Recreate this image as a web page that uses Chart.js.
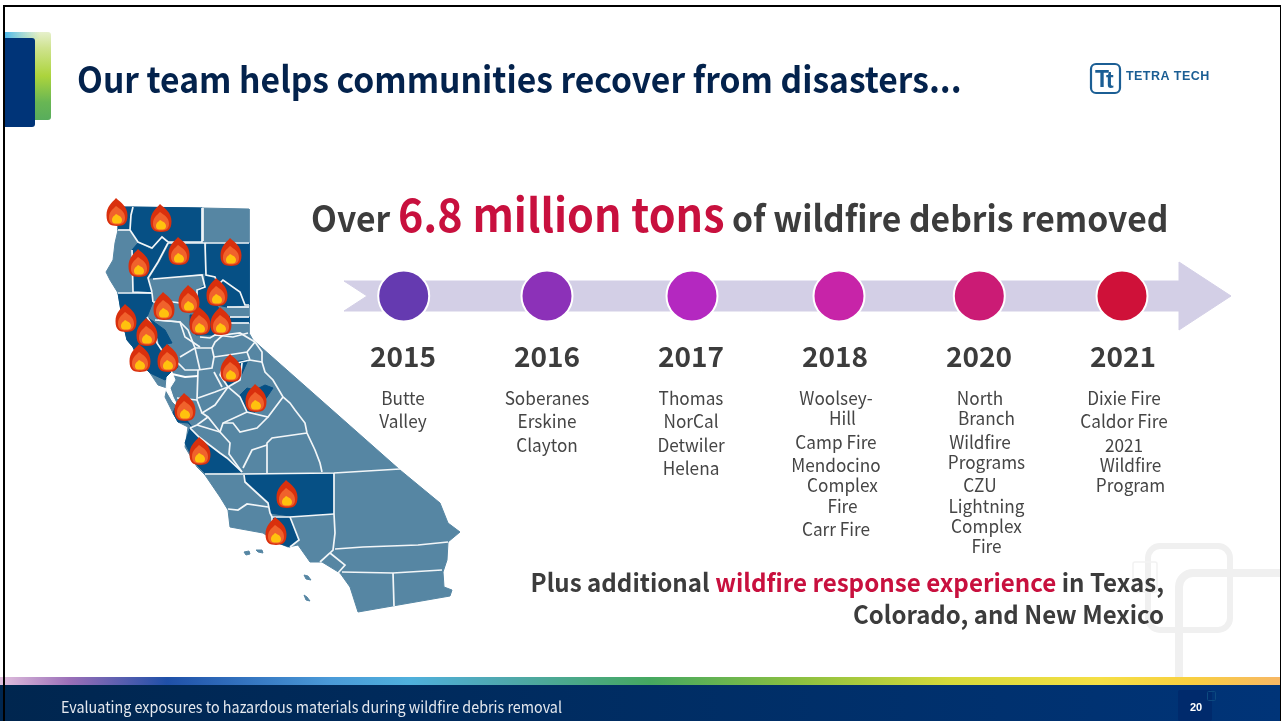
<!DOCTYPE html>
<html>
<head>
<meta charset="utf-8">
<title>Wildfire debris removal</title>
<script src="https://cdn.jsdelivr.net/npm/chart.js@4"></script>
<style>
  html, body { margin: 0; padding: 0; background: #fff; overflow: hidden; }
  canvas { display: block; }
</style>
</head>
<body>
<canvas id="slide" width="1281" height="721"></canvas>
<script>
// timeline
var years = ["2015", "2016", "2017", "2018", "2020", "2021"];
var milestoneX = [403.7, 547, 692, 839, 979.3, 1122];
var milestoneY = [296, 296, 296, 296, 296, 296];
var yearLabelX = [403, 547, 691, 835, 979, 1123];
var milestoneColors = ["#653ab0", "#8c31b8", "#b428c0", "#c724a8", "#cb1b75", "#cf1139"];
var bandShape = [[344,281],[1179,281],[1179,262],[1231,296],[1179,330],[1179,311],[344,311],[367,296],[344,281]];

// projects per year, each inner list is one item broken over lines
var projects2015 = [["Butte"], ["Valley"]];
var projects2016 = [["Soberanes"], ["Erskine"], ["Clayton"]];
var projects2017 = [["Thomas"], ["NorCal"], ["Detwiler"], ["Helena"]];
var projects2018 = [["Woolsey-", "Hill"], ["Camp Fire"], ["Mendocino", "Complex", "Fire"], ["Carr Fire"]];
var projects2020 = [["North", "Branch"], ["Wildfire", "Programs"], ["CZU", "Lightning", "Complex", "Fire"]];
var projects2021 = [["Dixie Fire"], ["Caldor Fire"], ["2021", "Wildfire", "Program"]];
var projectLists = [projects2015, projects2016, projects2017, projects2018, projects2020, projects2021];

// map of California
var stateOutline = [[118,207],[202,208],[249,209],[249,333],[253,340],[400,470],[440,503],[448,523],[460,532],[448,542],[447,560],[443,572],[444,587],[452,590],[450,596],[358,612],[350,587],[340,573],[322,562],[310,562],[298,545],[288,547],[278,543],[263,533],[230,527],[228,510],[220,497],[205,475],[197,467],[185,447],[188,427],[178,422],[173,413],[165,397],[167,388],[158,385],[150,373],[140,363],[133,347],[127,340],[123,323],[118,293],[110,280],[106,272],[113,260],[115,243],[118,230],[118,207]];
var islands = [
  [[244,552],[249,551],[250,554],[246,555],[244,552]],
  [[256,550],[262,550],[263,553],[258,552],[256,550]],
  [[304,575],[308,576],[311,580],[306,579],[304,575]],
  [[304,595],[307,597],[310,601],[306,600],[304,595]]
];
var burnedCounties = [
  [[118,207],[133,207],[131,215],[130,230],[118,230],[118,207]],
  [[133,207],[202,208],[202,242],[168,242],[162,237],[152,248],[138,242],[130,230],[131,215],[133,207]],
  [[170,243],[205,243],[206,273],[170,277],[150,278],[160,262],[170,243]],
  [[207,243],[249,243],[249,305],[245,305],[240,292],[223,280],[215,287],[205,275],[207,243]],
  [[132,250],[138,243],[152,250],[162,237],[168,243],[158,262],[148,278],[152,292],[133,292],[132,250]],
  [[205,275],[215,277],[218,285],[223,280],[240,292],[245,305],[227,307],[217,305],[207,300],[197,290],[205,285],[205,275]],
  [[118,293],[152,293],[153,302],[147,317],[155,330],[157,343],[133,347],[127,340],[123,323],[118,293]],
  [[147,317],[165,330],[172,343],[160,345],[155,330],[147,317]],
  [[133,347],[157,343],[163,352],[172,372],[165,380],[150,373],[140,363],[133,347]],
  [[157,343],[168,345],[178,367],[172,372],[163,352],[157,343]],
  [[197,290],[207,300],[217,305],[222,315],[205,318],[190,310],[197,290]],
  [[190,315],[222,315],[230,317],[249,317],[249,323],[230,323],[218,335],[196,335],[190,325],[190,315]],
  [[222,370],[232,362],[248,360],[240,378],[228,385],[222,370]],
  [[240,395],[247,388],[255,390],[265,385],[273,388],[267,397],[255,412],[247,412],[240,395]],
  [[173,413],[178,422],[188,423],[192,427],[183,415],[175,408],[173,413]],
  [[190,428],[199,437],[220,453],[227,458],[242,472],[205,473],[195,463],[185,443],[190,428]],
  [[245,475],[333,474],[334,514],[290,516],[270,513],[268,503],[257,493],[245,480],[245,475]],
  [[272,517],[290,517],[299,540],[290,547],[278,543],[267,533],[272,523],[272,517]]
];
var countyLines = [
  [[133,207],[131,215],[130,230],[138,242],[152,248],[162,237],[168,242],[202,242],[202,208]],
  [[118,230],[130,230]],
  [[203,208],[203,241]],
  [[132,250],[133,292],[152,293],[153,302]],
  [[168,243],[158,262],[148,278],[152,292]],
  [[205,243],[206,275],[215,277],[218,285],[223,280],[240,292],[245,305],[249,305]],
  [[168,243],[249,243]],
  [[153,279],[202,275],[205,287],[197,290],[197,300]],
  [[153,302],[173,302],[180,303],[188,310]],
  [[118,293],[152,293]],
  [[147,317],[155,330],[157,343],[163,352],[172,372]],
  [[155,320],[180,322],[185,337],[200,347]],
  [[200,337],[210,338],[215,335],[233,337],[248,333]],
  [[227,307],[249,307]],
  [[230,317],[249,317]],
  [[230,323],[249,323]],
  [[158,320],[180,322],[188,330],[195,348],[212,348]],
  [[180,357],[195,348],[200,370]],
  [[178,363],[185,370],[198,370],[212,368],[214,357],[212,348],[215,342],[223,335],[240,333],[255,342]],
  [[214,357],[228,355],[247,352],[255,342]],
  [[247,352],[250,360],[262,362],[262,352],[255,342]],
  [[262,362],[265,372],[273,380],[283,397],[290,403],[295,410],[305,423],[307,433],[315,450],[320,463],[322,472]],
  [[250,360],[237,363],[222,370],[220,375],[228,387],[240,397],[247,412],[268,417],[283,397]],
  [[242,363],[240,380],[228,387]],
  [[214,372],[222,387]],
  [[228,387],[215,405],[202,413],[208,417],[220,432],[230,443],[229,454],[242,472]],
  [[198,398],[215,392],[228,387]],
  [[198,370],[197,400],[202,413]],
  [[197,400],[177,398]],
  [[208,417],[197,425],[190,428]],
  [[197,425],[220,432]],
  [[247,412],[223,423],[220,432]],
  [[268,417],[257,428],[240,432],[233,423],[223,423]],
  [[307,433],[272,438],[267,443],[267,473]],
  [[267,445],[252,450],[243,468]],
  [[190,428],[199,437],[220,453],[227,458],[242,472]],
  [[205,474],[242,474],[334,473],[400,469]],
  [[244,475],[245,482],[257,493],[268,503],[270,513],[272,517],[290,517],[334,514]],
  [[334,473],[334,514],[335,533],[333,550],[330,553],[320,562]],
  [[228,509],[238,510],[247,504],[268,507]],
  [[272,517],[272,523],[267,533]],
  [[290,517],[299,540],[290,547]],
  [[335,549],[363,547],[418,545],[448,542]],
  [[330,553],[345,565],[338,573]],
  [[342,572],[393,573],[442,570]],
  [[393,573],[394,606]]
];
var bayWater = [[167,377],[172,372],[175,380],[170,388],[173,397],[178,407],[173,402],[166,390],[167,377]];
var deltaChannel = [[172,374],[185,377],[198,376]];
var fireSites = [[117,212],[161,218],[179,251],[231,252],[139,263],[217,292],[189,299],[164,306],[200,321],[221,321],[126,318],[147,332],[140,358],[168,358],[231,368],[256,398],[185,407],[200,451],[287,494],[276,531]];

// slide wording
var titleText = "Our team helps communities recover from disasters...";
var headlineParts = [["Over ", 36, false], ["6.8 million tons", 46, true], [" of wildfire debris removed", 36, false]];
var footerText = "Evaluating exposures to hazardous materials during wildfire debris removal";
var pageNumber = "20";
var logoText = "TETRA TECH";
var plusLine1 = [["Plus additional ", false], ["wildfire response experience", true], [" in Texas,", false]];
var plusLine2 = "Colorado, and New Mexico";

var SANS = '"Noto Sans CJK SC", "Noto Sans", sans-serif';
var GREY = "#3c3c3c";
var CRIMSON = "#c8103e";

function toPoints(list) {
  return list.map(function (p) { return { x: p[0], y: p[1] }; });
}

function roundBox(ctx, x, y, w, h, r) {
  ctx.beginPath();
  ctx.roundRect(x, y, w, h, r);
}

// the CJK face runs wide for Latin text, so narrow it to the slide's setting
function squeezed(ctx, text, x, y, factor) {
  ctx.fillText(text, x, y, ctx.measureText(text).width * factor);
}

// flame icon used as the point style of the fire sites
function makeFlame() {
  var c = document.createElement("canvas");
  c.width = 24;
  c.height = 30;
  var g = c.getContext("2d");
  function drop(cx, top, bottom, halfW, color) {
    var h = bottom - top;
    g.beginPath();
    g.moveTo(cx - 1, top);
    g.bezierCurveTo(cx + halfW * 0.35, top + h * 0.16, cx + halfW, top + h * 0.3, cx + halfW, top + h * 0.62);
    g.bezierCurveTo(cx + halfW, bottom - h * 0.06, cx + halfW * 0.6, bottom, cx, bottom);
    g.bezierCurveTo(cx - halfW * 0.6, bottom, cx - halfW, bottom - h * 0.06, cx - halfW, top + h * 0.62);
    g.bezierCurveTo(cx - halfW, top + h * 0.3, cx - halfW * 0.45, top + h * 0.16, cx - 1, top);
    g.closePath();
    g.fillStyle = color;
    g.fill();
  }
  drop(12, 1, 29, 10.5, "#d9300d");
  drop(12, 9, 27.5, 8, "#f0622c");
  drop(12, 17, 26.5, 5, "#ffc20e");
  return c;
}

function polygonDataset(shape, color) {
  return {
    type: "scatter",
    data: toPoints(shape),
    showLine: true,
    fill: "shape",
    backgroundColor: color,
    borderColor: color,
    borderWidth: 1,
    pointRadius: 0,
    tension: 0
  };
}

function lineDataset(shape, color, width) {
  return {
    type: "scatter",
    data: toPoints(shape),
    showLine: true,
    fill: false,
    borderColor: color,
    borderWidth: width,
    pointRadius: 0,
    tension: 0
  };
}

var MAP_LIGHT = "#5686a3";
var MAP_DARK = "#065085";
var MILESTONE_RADIUS = 25.5;
var MILESTONE_BORDER = 2;

var layers = [];
layers.push(polygonDataset(bandShape, "#d3cfe6"));
layers.push(polygonDataset(stateOutline, MAP_LIGHT));
islands.forEach(function (s) { layers.push(polygonDataset(s, MAP_LIGHT)); });
burnedCounties.forEach(function (s) { layers.push(polygonDataset(s, MAP_DARK)); });
countyLines.forEach(function (s) { layers.push(lineDataset(s, "#f2f6f8", 1.7)); });
layers.push(polygonDataset(bayWater, "#ffffff"));
layers.push(lineDataset(deltaChannel, "#ffffff", 2));
layers.push({
  type: "scatter",
  data: toPoints(fireSites),
  pointStyle: makeFlame(),
  pointRadius: 12
});
layers.push({
  type: "scatter",
  data: milestoneX.map(function (x, i) { return { x: x, y: milestoneY[i] }; }),
  pointRadius: MILESTONE_RADIUS,
  pointBackgroundColor: milestoneColors,
  pointBorderColor: "#ffffff",
  pointBorderWidth: MILESTONE_BORDER
});
// the first dataset paints on top, so later layers get a lower order
layers.forEach(function (d, i) { d.order = -i; d.clip = false; });

// frame, title block, footer and background squares
var slideBackground = {
  id: "slideBackground",
  beforeDatasetsDraw: function (chart) {
    var ctx = chart.ctx;
    ctx.save();

    // pale squares behind the closing text
    ctx.strokeStyle = "#f0f0f0";
    ctx.lineWidth = 6;
    roundBox(ctx, 1148, 546, 82, 84, 12);
    ctx.stroke();
    ctx.lineWidth = 8;
    ctx.beginPath();
    ctx.moveTo(1179, 680);
    ctx.lineTo(1179, 587);
    ctx.arcTo(1179, 573, 1193, 573, 14);
    ctx.lineTo(1281, 573);
    ctx.stroke();
    ctx.lineWidth = 1.5;
    ctx.strokeStyle = "#f2f2f2";
    roundBox(ctx, 1133, 562, 24, 30, 2);
    ctx.stroke();

    // coloured tab and blue block behind the title
    var tab = ctx.createLinearGradient(0, 32, 0, 120);
    tab.addColorStop(0, "#e6f0cc");
    tab.addColorStop(0.18, "#cfe38f");
    tab.addColorStop(0.5, "#acd43c");
    tab.addColorStop(0.8, "#68b654");
    tab.addColorStop(1, "#58ad5c");
    ctx.fillStyle = tab;
    roundBox(ctx, 5, 32, 46, 88, 3);
    ctx.fill();
    var tabTop = ctx.createLinearGradient(5, 0, 40, 0);
    tabTop.addColorStop(0, "#4db8ea");
    tabTop.addColorStop(1, "rgba(120,205,230,0)");
    ctx.fillStyle = tabTop;
    ctx.fillRect(5, 32, 35, 7);
    ctx.fillStyle = "#003478";
    roundBox(ctx, 5, 38, 30, 89, [0, 3, 3, 0]);
    ctx.fill();

    // colour strip and footer bar
    var strip = ctx.createLinearGradient(0, 0, 1281, 0);
    var stops = [[0, "#e2c0de"], [70, "#9a6fb8"], [167, "#1f50a8"], [330, "#4a9ad8"], [410, "#4fb0dc"], [500, "#4fa8b0"], [650, "#45a860"], [800, "#8cc040"], [950, "#d5d93a"], [1100, "#f5df45"], [1190, "#f8d040"], [1281, "#f7b765"]];
    stops.forEach(function (s) { strip.addColorStop(s[0] / 1281, s[1]); });
    ctx.fillStyle = strip;
    ctx.fillRect(0, 677, 1281, 8);
    var bar = ctx.createLinearGradient(0, 0, 1281, 0);
    bar.addColorStop(0, "#00264f");
    bar.addColorStop(1, "#003478");
    ctx.fillStyle = bar;
    ctx.fillRect(0, 685, 1281, 36);
    ctx.fillStyle = "#002a6c";
    roundBox(ctx, 1178, 690, 34, 31, 2);
    ctx.fill();
    ctx.strokeStyle = "#0d4a80";
    ctx.lineWidth = 1;
    roundBox(ctx, 1207.5, 691.5, 8, 9, 1);
    ctx.stroke();

    // slide frame
    ctx.fillStyle = "#000000";
    ctx.fillRect(3, 5, 1278, 2);
    ctx.fillRect(3, 5, 2, 716);
    ctx.fillRect(1280, 5, 1, 716);

    // logo mark
    ctx.strokeStyle = "#1b5e94";
    ctx.lineWidth = 2.2;
    roundBox(ctx, 1091, 64, 29, 29, 5);
    ctx.stroke();
    ctx.restore();
  }
};

// all slide wording, painted over the marks
var slideText = {
  id: "slideText",
  afterDatasetsDraw: function (chart) {
    var ctx = chart.ctx;
    ctx.save();
    ctx.textBaseline = "alphabetic";

    ctx.font = "700 36px " + SANS;
    ctx.fillStyle = "#03224c";
    squeezed(ctx, titleText, 77, 93, 0.934);

    // logo wording
    ctx.fillStyle = "#1b5e94";
    ctx.font = '700 23px "Liberation Sans"';
    ctx.fillText("T", 1095, 87);
    ctx.fillText("t", 1106, 88);
    ctx.font = '700 12.5px "Liberation Sans"';
    ctx.letterSpacing = "0.45px";
    ctx.fillText(logoText, 1126, 80);
    ctx.letterSpacing = "0px";

    // headline
    var x = 311;
    headlineParts.forEach(function (part) {
      ctx.font = "700 " + part[1] + "px " + SANS;
      ctx.fillStyle = part[2] ? CRIMSON : GREY;
      squeezed(ctx, part[0], x, 232, 0.935);
      x += ctx.measureText(part[0]).width * 0.935;
    });

    // years
    ctx.textAlign = "center";
    ctx.textBaseline = "middle";
    ctx.font = "700 28px " + SANS;
    ctx.fillStyle = GREY;
    years.forEach(function (year, i) {
      ctx.fillText(year, yearLabelX[i], 356.5);
    });

    // project names below each year
    ctx.font = "400 18px " + SANS;
    ctx.fillStyle = "#454545";
    projectLists.forEach(function (items, i) {
      var y = 398;
      items.forEach(function (item, k) {
        if (k > 0) y += 23.4;
        item.forEach(function (line, n) {
          if (n > 0) y += 20.3;
          squeezed(ctx, line, yearLabelX[i] + (n > 0 ? 6.5 : 0) + (i > 2 ? 1 : 0), y, 0.955);
        });
      });
    });

    // closing statement, right aligned
    ctx.textAlign = "left";
    ctx.textBaseline = "alphabetic";
    ctx.font = "700 25px " + SANS;
    var total = 0;
    plusLine1.forEach(function (part) { total += ctx.measureText(part[0]).width * 0.965; });
    x = 1164 - total;
    plusLine1.forEach(function (part) {
      ctx.fillStyle = part[1] ? CRIMSON : GREY;
      squeezed(ctx, part[0], x, 592, 0.965);
      x += ctx.measureText(part[0]).width * 0.965;
    });
    ctx.textAlign = "right";
    ctx.fillStyle = GREY;
    squeezed(ctx, plusLine2, 1164, 624, 0.96);

    // footer
    ctx.textAlign = "left";
    ctx.font = "400 15.5px " + SANS;
    ctx.fillStyle = "#e4e8ee";
    squeezed(ctx, footerText, 61, 713, 0.925);
    ctx.textAlign = "center";
    ctx.font = '700 11px "Liberation Sans"';
    ctx.fillStyle = "#ffffff";
    ctx.fillText(pageNumber, 1196, 711);
    ctx.restore();
  }
};

// Chart.js insets the plot area by the largest point overflow, so the scale
// bounds start at that inset and one unit stays one canvas pixel
var inset = MILESTONE_RADIUS + MILESTONE_BORDER;

new Chart(document.getElementById("slide"), {
  type: "scatter",
  data: { datasets: layers },
  options: {
    responsive: false,
    animation: false,
    events: [],
    layout: { padding: 0 },
    scales: {
      x: { type: "linear", min: inset, max: 1281 - inset, display: false },
      y: { type: "linear", min: inset, max: 721 - inset, reverse: true, display: false }
    },
    plugins: {
      legend: { display: false },
      title: { display: false },
      tooltip: { enabled: false }
    }
  },
  plugins: [slideBackground, slideText]
});
</script>
</body>
</html>
